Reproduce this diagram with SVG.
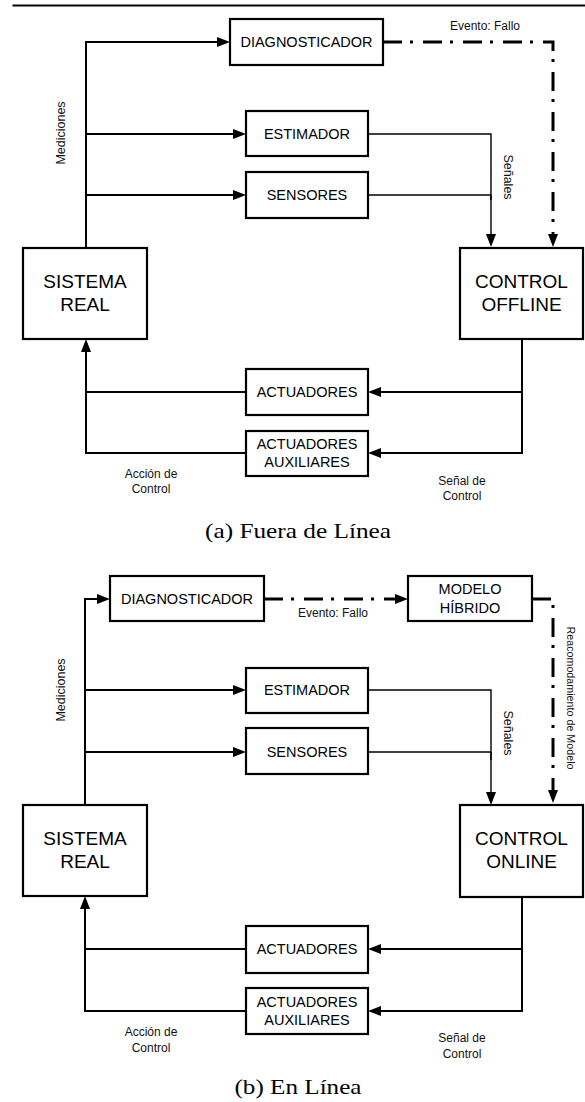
<svg xmlns="http://www.w3.org/2000/svg" width="585" height="1102" viewBox="0 0 585 1102">
<style>
.box{fill:#fff;stroke:#000;stroke-width:2.2}
.t{font-family:"Liberation Sans",Arial,sans-serif;font-size:14.5px;fill:#000;text-anchor:middle;dominant-baseline:central}
.tb{font-family:"Liberation Sans",Arial,sans-serif;font-size:19px;fill:#000;text-anchor:middle;dominant-baseline:central}
.s{font-family:"Liberation Sans",Arial,sans-serif;font-size:12px;fill:#111;text-anchor:middle}
.cap{font-family:"Liberation Serif","Times New Roman",serif;font-size:21px;fill:#000;text-anchor:middle}
.w{fill:none;stroke:#000;stroke-width:2;marker-end:url(#ah)}
.n{fill:none;stroke:#000;stroke-width:2}
.thin{fill:none;stroke:#000;stroke-width:1.4}
.dd{fill:none;stroke:#000;stroke-width:3;stroke-dasharray:19 8 3 10}
</style>
<defs>
<marker id="ah" markerUnits="userSpaceOnUse" markerWidth="13" markerHeight="10" refX="7" refY="5" orient="auto">
<path d="M0,0 L13,5 L0,10 Z" fill="#000"/>
</marker>
</defs>
<rect x="12.5" y="4.5" width="573" height="2" fill="#000"/>

<g id="connectors">
<!-- (a) -->
<path class="n" d="M86,248 V42 H210"/>
<path class="w" d="M86,42 H224"/>
<path class="w" d="M86,134 H240"/>
<path class="w" d="M86,195 H240"/>
<path class="thin" d="M368,134 H491 V200"/>
<path class="thin" d="M368,195 H491"/>
<path class="w" style="stroke-width:1.4" d="M491,195 V241"/>
<path class="dd" d="M383,42 H553 V241"/>
<path fill="#000" d="M548,234 L553,247 L558,234 Z"/>
<path class="n" d="M522,339 V453 H380"/>
<path class="w" d="M522,392 H374"/>
<path class="w" d="M390,453 H374"/>
<path class="n" d="M246,392 H86"/>
<path class="n" d="M246,453 H86 V360"/>
<path class="w" d="M86,370 V345"/>
<!-- (b) -->
<path class="n" d="M85,805 V599 H95"/>
<path class="w" d="M85,599 H104"/>
<path class="w" d="M85,690 H240"/>
<path class="w" d="M85,752 H240"/>
<path class="thin" d="M368,690 H491 V760"/>
<path class="thin" d="M368,752 H491"/>
<path class="w" style="stroke-width:1.4" d="M491,752 V799"/>
<path class="dd" d="M264,599 H402"/>
<path fill="#000" d="M395,594 L408,599 L395,604 Z"/>
<path class="dd" d="M532,599 H553 V797"/>
<path fill="#000" d="M548,790 L553,803 L558,790 Z"/>
<path class="n" d="M522,897 V1011 H380"/>
<path class="w" d="M522,949 H374"/>
<path class="w" d="M390,1011 H374"/>
<path class="n" d="M246,949 H85"/>
<path class="n" d="M246,1011 H85 V920"/>
<path class="w" d="M85,930 V902"/>
</g>

<g id="labels">
<text class="s" x="485" y="30">Evento: Fallo</text>
<text class="s" transform="translate(64.5,133) rotate(-90)" style="font-size:12.5px">Mediciones</text>
<text class="s" transform="translate(503.5,177) rotate(90)" style="font-size:12.5px">Señales</text>
<text class="s" x="151" y="478">Acción de</text>
<text class="s" x="151" y="493">Control</text>
<text class="s" x="462" y="485">Señal de</text>
<text class="s" x="462" y="500">Control</text>
<text class="cap" x="298" y="538" textLength="186" lengthAdjust="spacingAndGlyphs">(a) Fuera de Línea</text>

<text class="s" x="333" y="617">Evento: Fallo</text>
<text class="s" transform="translate(64.5,690) rotate(-90)" style="font-size:12.5px">Mediciones</text>
<text class="s" transform="translate(503.5,733) rotate(90)" style="font-size:12.5px">Señales</text>
<text class="s" transform="translate(566.5,698) rotate(90)" style="font-size:10.7px" textLength="143">Reacomodamiento de Modelo</text>
<text class="s" x="151" y="1036">Acción de</text>
<text class="s" x="151" y="1052">Control</text>
<text class="s" x="462" y="1042">Señal de</text>
<text class="s" x="462" y="1058">Control</text>
<text class="cap" x="298" y="1094" textLength="127" lengthAdjust="spacingAndGlyphs">(b) En Línea</text>
</g>

<g id="a-diagnosticador"><rect class="box" x="230" y="19" width="153" height="46"/><text class="t" x="306.5" y="42">DIAGNOSTICADOR</text></g>
<g id="a-estimador"><rect class="box" x="246" y="111" width="122" height="45"/><text class="t" x="307" y="134">ESTIMADOR</text></g>
<g id="a-sensores"><rect class="box" x="246" y="172" width="122" height="46"/><text class="t" x="307" y="195">SENSORES</text></g>
<g id="a-sistema"><rect class="box" x="23" y="248" width="124" height="91"/><text class="tb" x="85" y="281">SISTEMA</text><text class="tb" x="85" y="304">REAL</text></g>
<g id="a-control"><rect class="box" x="460" y="248" width="123" height="91"/><text class="tb" x="521.5" y="281">CONTROL</text><text class="tb" x="521.5" y="304">OFFLINE</text></g>
<g id="a-actuadores"><rect class="box" x="246" y="369" width="122" height="46"/><text class="t" x="307" y="392">ACTUADORES</text></g>
<g id="a-auxiliares"><rect class="box" x="246" y="431" width="122" height="45"/><text class="t" x="307" y="444">ACTUADORES</text><text class="t" x="307" y="462">AUXILIARES</text></g>

<g id="b-diagnosticador"><rect class="box" x="110" y="576" width="154" height="45"/><text class="t" x="187" y="599">DIAGNOSTICADOR</text></g>
<g id="b-modelo"><rect class="box" x="408" y="576" width="124" height="45"/><text class="t" x="470" y="589">MODELO</text><text class="t" x="470" y="608">HÍBRIDO</text></g>
<g id="b-estimador"><rect class="box" x="246" y="668" width="122" height="45"/><text class="t" x="307" y="690">ESTIMADOR</text></g>
<g id="b-sensores"><rect class="box" x="246" y="728" width="122" height="46"/><text class="t" x="307" y="752">SENSORES</text></g>
<g id="b-sistema"><rect class="box" x="23" y="805" width="124" height="91"/><text class="tb" x="85" y="838">SISTEMA</text><text class="tb" x="85" y="861">REAL</text></g>
<g id="b-control"><rect class="box" x="460" y="805" width="123" height="92"/><text class="tb" x="521.5" y="838">CONTROL</text><text class="tb" x="521.5" y="861">ONLINE</text></g>
<g id="b-actuadores"><rect class="box" x="246" y="926" width="122" height="47"/><text class="t" x="307" y="949">ACTUADORES</text></g>
<g id="b-auxiliares"><rect class="box" x="246" y="988" width="122" height="46"/><text class="t" x="307" y="1002">ACTUADORES</text><text class="t" x="307" y="1020">AUXILIARES</text></g>
</svg>
